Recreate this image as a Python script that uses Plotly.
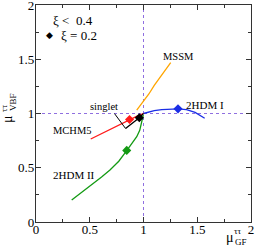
import plotly.graph_objects as go

# curves: mu_GF (x) vs mu_VBF (y)
mssm_x = [0.937, 1.00, 1.05, 1.10, 1.17, 1.253]
mssm_y = [1.032, 1.11, 1.18, 1.26, 1.36, 1.468]

hdm1_x = [1.0, 1.05, 1.10, 1.17, 1.25, 1.32, 1.40, 1.48, 1.569]
hdm1_y = [1.0, 1.015, 1.026, 1.036, 1.042, 1.043, 1.035, 1.01, 0.956]
hdm1_pt = ([1.321], [1.043])

hdm2_x = [0.332, 0.43, 0.533, 0.61, 0.688, 0.77, 0.844, 0.90, 0.937, 0.965, 0.983, 0.998]
hdm2_y = [0.203, 0.275, 0.357, 0.415, 0.479, 0.56, 0.657, 0.735, 0.786, 0.845, 0.91, 0.986]
hdm2_pt = ([0.844], [0.66])

mchm5_x = [0.509, 0.62, 0.74, 0.87, 0.95, 1.0]
mchm5_y = [0.765, 0.82, 0.88, 0.945, 0.98, 1.0]
mchm5_pt = ([0.87], [0.945])

singlet_x = [0.833, 0.90, 0.961, 1.0]
singlet_y = [0.862, 0.91, 0.961, 1.0]
singlet_pt = ([0.961], [0.961])

tick_vals = [0, 0.5, 1, 1.5, 2]
tick_text = ["0", "0.5", "1", "1.5", "2"]

FONT = "Liberation Serif"
W, H = 255, 248
L, R, T, B = 36, 4, 5, 26
pw, ph = W - L - R, H - T - B

def px(x, y):
    return (x - L) / pw, 1 - (y - T) / ph

fig = go.Figure()

def curve(x, y, color):
    fig.add_trace(go.Scatter(x=x, y=y, mode="lines", line=dict(color=color, width=1.3),
                             showlegend=False, hoverinfo="skip", cliponaxis=False))

def pt(p, color):
    fig.add_trace(go.Scatter(x=p[0], y=p[1], mode="markers",
                             marker=dict(symbol="diamond", size=7, color=color),
                             showlegend=False, hoverinfo="skip", cliponaxis=False))

curve(mssm_x, mssm_y, "#ffa500")
curve(hdm1_x, hdm1_y, "#1a2ee6")
curve(hdm2_x, hdm2_y, "#139a13")
curve(mchm5_x, mchm5_y, "#ff1a1a")
curve(singlet_x, singlet_y, "black")
pt(hdm1_pt, "#1a2ee6")
pt(hdm2_pt, "#139a13")
pt(mchm5_pt, "#ff1a1a")
pt(singlet_pt, "black")

dot = dict(color="#8f6fe0", width=1, dash="dot")
fig.add_shape(type="line", x0=0, x1=2, y0=1, y1=1, xref="x", yref="y", line=dot, layer="below")
fig.add_shape(type="line", x0=1, x1=1, y0=0, y1=2, xref="x", yref="y", line=dot, layer="below")

def label(text, x, y, size=10.5):
    fig.add_annotation(text=text, x=x, y=y, xref="x", yref="y", showarrow=False,
                       xanchor="center", yanchor="middle",
                       font=dict(family=FONT, size=size, color="black"))

label("MSSM", 1.321, 1.521)
label("2HDM I", 1.572, 1.078, 11)
label("MCHM5", 0.344, 0.839)
label("2HDM II", 0.35, 0.433, 11)
label("singlet", 0.633, 1.069)
# pointer from label to singlet curve
fig.add_annotation(text="", x=0.833, y=0.862, ax=0.72, ay=1.013, xref="x", yref="y",
                   axref="x", ayref="y", showarrow=True, arrowhead=0, arrowwidth=1,
                   arrowcolor="black")

def ptext(text, x, y, size, angle=0, family=FONT):
    ax_, ay_ = px(x, y)
    fig.add_annotation(text=text, x=ax_, y=ay_, xref="paper", yref="paper", showarrow=False,
                       xanchor="center", yanchor="middle", textangle=angle,
                       font=dict(family=family, size=size, color="black"))

# legend texts
ptext("ξ <  0.4", 73, 20, 13)
ptext("◆", 49, 35, 9, family="DejaVu Sans")
ptext("ξ = 0.2", 78.5, 35, 13)

# axis titles (built from pieces)
ptext("μ", 230, 238, 14)
ptext("ττ", 238, 231, 9)
ptext("GF", 241, 242, 9)
ptext("μ", 8, 119, 14, -90)
ptext("ττ", 4, 108, 9, -90)
ptext("VBF", 13, 102, 9, -90)

axis = dict(range=[0, 2], tickvals=tick_vals, ticktext=tick_text, ticks="inside",
            ticklen=5, tickwidth=1, tickcolor="#333", showline=True, linecolor="#333",
            linewidth=1.2, mirror="ticks", showgrid=False, zeroline=False, automargin=False,
            ticklabeloverflow="allow",
            tickfont=dict(family=FONT, size=13, color="black"),
            minor=dict(tickvals=[0.25, 0.75, 1.25, 1.75], ticks="inside", ticklen=3,
                       tickcolor="#333", showgrid=False))
fig.update_xaxes(**axis, ticklabelstandoff=-5)
fig.update_yaxes(**axis, ticklabelstandoff=-2)
fig.update_layout(width=W, height=H, margin=dict(l=L, r=R, t=T, b=B, autoexpand=False),
                  plot_bgcolor="white", paper_bgcolor="white", showlegend=False)

fig.write_html("out.html", config={"displayModeBar": False},
               post_script="document.body.style.margin='0';document.body.style.overflow='hidden';")
